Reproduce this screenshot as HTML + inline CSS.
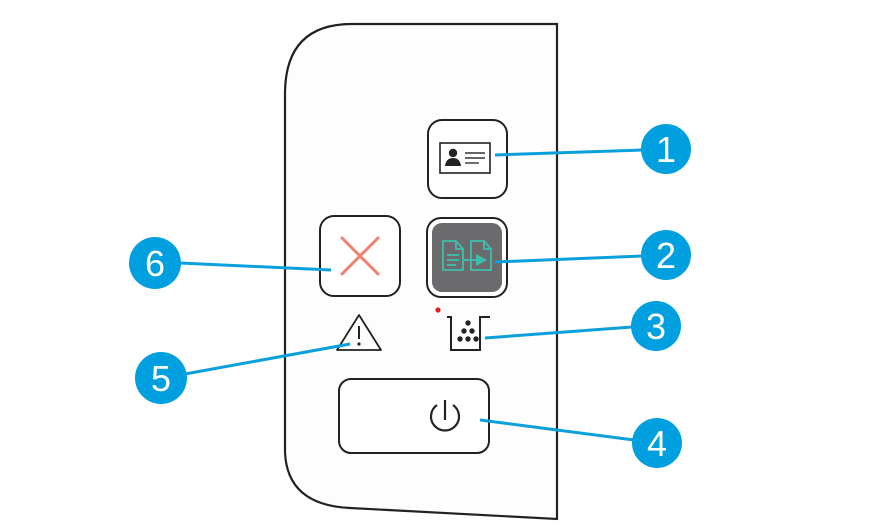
<!DOCTYPE html>
<html><head><style>
html,body{margin:0;padding:0;background:#fff;}
svg{display:block}
text{font-family:"Liberation Sans",sans-serif;fill:#fff;font-size:36px;text-anchor:middle}
</style></head><body>
<svg width="892" height="527" viewBox="0 0 892 527">
<!-- panel -->
<path d="M557,519 L557,24 L352,24 Q286,24 285,92 L285,452 Q287,505 350,508 Z" fill="#fdfdfd" stroke="#222" stroke-width="2.2"/>
<!-- button 1 -->
<rect x="428" y="120" width="79" height="78" rx="14" fill="#fff" stroke="#222" stroke-width="2"/>
<rect x="440" y="143" width="50" height="30" fill="#fff" stroke="#222" stroke-width="1.6"/>
<circle cx="453" cy="153" r="4.2" fill="#222"/>
<path d="M445,166 Q446,158 453,158 Q460,158 461,166 Z" fill="#222"/>
<line x1="465" y1="153" x2="485" y2="153" stroke="#333" stroke-width="1.4"/>
<line x1="465" y1="158" x2="485" y2="158" stroke="#333" stroke-width="1.4"/>
<line x1="465" y1="163" x2="479" y2="163" stroke="#333" stroke-width="1.4"/>
<!-- button 2 -->
<rect x="427" y="218" width="80" height="79" rx="14" fill="#fff" stroke="#222" stroke-width="2"/>
<rect x="432" y="223" width="70" height="69" rx="10" fill="#6b6b6e"/>
<g fill="none" stroke="#3cc0ad" stroke-width="1.8">
<path d="M443,241 L456,241 L463,249 L463,270 L443,270 Z"/><path d="M456,241 L456,249 L463,249"/>
<line x1="447" y1="255" x2="459" y2="255"/><line x1="447" y1="260" x2="459" y2="260"/><line x1="447" y1="265" x2="456" y2="265"/>
<path d="M471,241 L484,241 L491,249 L491,270 L471,270 Z"/><path d="M484,241 L484,249 L491,249"/>
<line x1="463" y1="260" x2="476" y2="260"/>
</g>
<path d="M476,254 L487,260 L476,266 Z" fill="#3cc0ad"/>
<!-- button 6 -->
<rect x="320" y="216" width="80" height="80" rx="14" fill="#fff" stroke="#222" stroke-width="2"/>
<g stroke="#f08070" stroke-width="3" stroke-linecap="round"><line x1="342" y1="238" x2="378" y2="274"/><line x1="378" y1="238" x2="342" y2="274"/></g>
<!-- warning -->
<path d="M359,315 L381,350 L337,350 Z" fill="none" stroke="#222" stroke-width="1.8" stroke-linejoin="round"/>
<line x1="359" y1="326" x2="359" y2="339" stroke="#222" stroke-width="2"/>
<circle cx="359" cy="344" r="1.6" fill="#222"/>
<!-- toner -->
<circle cx="438" cy="310" r="2.6" fill="#e0201c"/>
<path d="M447,317 L451,317 L451,350 L480,350 L480,317 L490,317" fill="none" stroke="#222" stroke-width="2"/>
<g fill="#222"><circle cx="468" cy="323" r="2.7"/><circle cx="464" cy="331" r="2.7"/><circle cx="472" cy="331" r="2.7"/><circle cx="460" cy="339" r="2.7"/><circle cx="468" cy="339" r="2.7"/><circle cx="476" cy="339" r="2.7"/></g>
<!-- power button -->
<rect x="339" y="379" width="150" height="74" rx="12" fill="#fff" stroke="#222" stroke-width="2"/>
<path d="M437,405 A14,14 0 1 0 453,405" fill="none" stroke="#222" stroke-width="2.2"/>
<line x1="445" y1="400" x2="445" y2="420" stroke="#222" stroke-width="2.2"/>
<!-- connectors -->
<g stroke="#0aa0dc" stroke-width="3">
<line x1="495" y1="155" x2="642" y2="150"/>
<line x1="495" y1="262" x2="642" y2="256"/>
<line x1="485" y1="338" x2="632" y2="327"/>
<line x1="480" y1="420" x2="634" y2="440"/>
<line x1="350" y1="344" x2="185" y2="374"/>
<line x1="331" y1="270" x2="180" y2="263"/>
</g>
<g fill="#009fe0">
<circle cx="666" cy="149" r="25"/><circle cx="666" cy="255" r="25"/><circle cx="656" cy="326" r="25"/><circle cx="657" cy="443" r="25"/><circle cx="161" cy="378" r="26"/><circle cx="155" cy="263" r="26"/>
</g>
<text x="666" y="162">1</text><text x="666" y="268">2</text><text x="656" y="339">3</text><text x="657" y="456">4</text><text x="161" y="391">5</text><text x="155" y="276">6</text>
</svg>
</body></html>
